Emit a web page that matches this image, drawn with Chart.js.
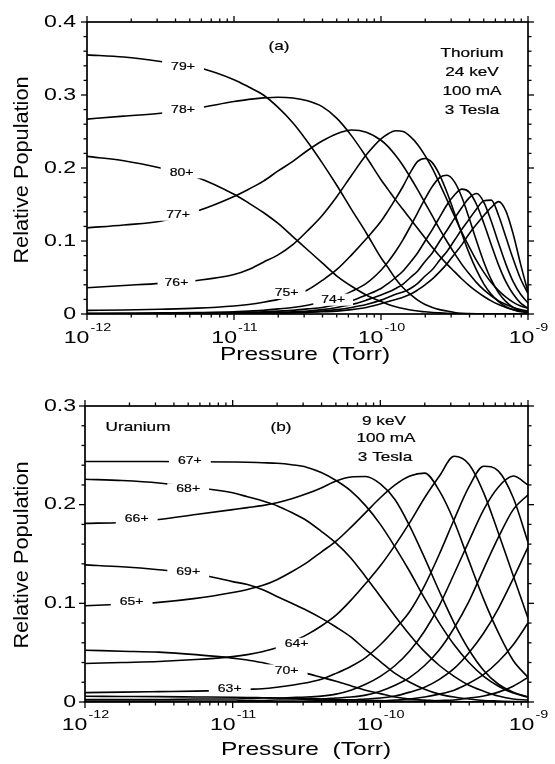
<!DOCTYPE html>
<html><head><meta charset="utf-8">
<script src="https://cdn.jsdelivr.net/npm/chart.js@4"></script>
<style>
html,body{margin:0;padding:0;background:#fff;}
#wrap{position:relative;width:555px;height:764px;}
canvas{position:absolute;left:0;}
</style></head><body>
<div id="wrap">
<canvas id="ca" width="555" height="380" style="top:0"></canvas>
<canvas id="cb" width="555" height="384" style="top:380px"></canvas>
</div>
<script>
// ---------- Panel (a): Thorium ----------
const pressureA = [1e-12,1.778e-12,3.162e-12,5.623e-12,1e-11,1.259e-11,1.585e-11,1.995e-11,2.512e-11,3.162e-11,3.981e-11,5.012e-11,6.310e-11,7.943e-11,1e-10,1.122e-10,1.259e-10,1.413e-10,1.585e-10,1.778e-10,1.995e-10,2.239e-10,2.512e-10,2.818e-10,3.162e-10,3.548e-10,3.981e-10,4.467e-10,5.012e-10,5.623e-10,6.310e-10,7.079e-10,7.943e-10,8.913e-10,1e-9];
const th80 = [0.216,0.210,0.200,0.187,0.164,0.152,0.139,0.124,0.106,0.088,0.070,0.052,0.038,0.026,0.017,0.013,0.010,0.0075,0.0055,0.004,0.003,0.002,0.0015,0.001,0.0005,0.0003,0.0002,0.0001,0,0,0,0,0,0,0];
const th79 = [0.355,0.352,0.346,0.338,0.321,0.311,0.300,0.283,0.262,0.236,0.207,0.176,0.143,0.111,0.077,0.063,0.048,0.036,0.027,0.019,0.013,0.009,0.006,0.004,0.002,0.001,0.0006,0.0003,0.0001,0,0,0,0,0,0];
const th78 = [0.267,0.271,0.275,0.282,0.291,0.294,0.296,0.297,0.296,0.292,0.284,0.268,0.244,0.215,0.184,0.170,0.156,0.143,0.130,0.117,0.104,0.091,0.079,0.068,0.058,0.048,0.039,0.031,0.024,0.018,0.013,0.009,0.006,0.004,0.003];
const th77 = [0.118,0.122,0.127,0.141,0.161,0.171,0.182,0.196,0.209,0.224,0.237,0.247,0.252,0.249,0.238,0.229,0.217,0.203,0.187,0.170,0.152,0.134,0.116,0.099,0.083,0.068,0.055,0.043,0.033,0.025,0.018,0.013,0.009,0.006,0.004];
const th76 = [0.036,0.039,0.042,0.046,0.054,0.061,0.071,0.081,0.095,0.114,0.135,0.161,0.190,0.218,0.240,0.247,0.251,0.250,0.243,0.232,0.217,0.199,0.178,0.156,0.134,0.112,0.092,0.073,0.057,0.043,0.032,0.023,0.016,0.011,0.008];
const th75 = [0.005,0.0055,0.0065,0.008,0.011,0.013,0.016,0.020,0.026,0.033,0.046,0.061,0.081,0.103,0.127,0.142,0.158,0.175,0.194,0.209,0.213,0.207,0.190,0.166,0.138,0.110,0.083,0.060,0.041,0.027,0.017,0.010,0.006,0.003,0.002];
const th74 = [0.001,0.001,0.0015,0.002,0.003,0.004,0.005,0.007,0.009,0.012,0.016,0.022,0.031,0.042,0.060,0.072,0.086,0.102,0.120,0.139,0.158,0.175,0.187,0.190,0.181,0.160,0.131,0.100,0.071,0.047,0.029,0.017,0.009,0.005,0.002];
const th73 = [0.0005,0.0008,0.001,0.0015,0.002,0.0025,0.003,0.004,0.005,0.007,0.009,0.013,0.018,0.026,0.035,0.042,0.050,0.059,0.071,0.084,0.100,0.116,0.133,0.150,0.163,0.171,0.167,0.150,0.124,0.095,0.067,0.044,0.027,0.015,0.008];
const th72 = [0.0002,0.0003,0.0005,0.0008,0.001,0.0015,0.002,0.0025,0.003,0.004,0.006,0.009,0.013,0.019,0.026,0.030,0.035,0.041,0.050,0.059,0.072,0.084,0.100,0.115,0.131,0.146,0.159,0.165,0.153,0.127,0.097,0.068,0.044,0.027,0.015];
const th71 = [0.0001,0.0002,0.0003,0.0004,0.0006,0.0008,0.001,0.0015,0.002,0.003,0.004,0.006,0.009,0.013,0.019,0.023,0.027,0.030,0.035,0.042,0.052,0.061,0.074,0.086,0.101,0.116,0.130,0.144,0.155,0.156,0.135,0.105,0.075,0.048,0.028];
const th70 = [0.0001,0.0001,0.0002,0.0003,0.0004,0.0006,0.0008,0.001,0.0015,0.002,0.003,0.004,0.006,0.009,0.014,0.017,0.020,0.023,0.027,0.033,0.040,0.048,0.058,0.069,0.082,0.095,0.110,0.123,0.135,0.146,0.154,0.141,0.109,0.068,0.030];
const seriesA = [th80, th79, th78, th77, th76, th75, th74, th73, th72, th71, th70];
const yTicksA = ['0', '0.1', '0.2', '0.3', '0.4'];

// ---------- Panel (b): Uranium ----------
const pressureB = [1e-12,1.778e-12,3.162e-12,5.623e-12,1e-11,1.259e-11,1.585e-11,1.995e-11,2.512e-11,3.162e-11,3.981e-11,5.012e-11,6.310e-11,7.943e-11,1e-10,1.259e-10,1.585e-10,1.995e-10,2.512e-10,3.162e-10,3.981e-10,5.012e-10,6.310e-10,7.943e-10,1e-9];
const u71 = [0.0058,0.0056,0.0054,0.0051,0.0048,0.0046,0.0043,0.004,0.0037,0.0034,0.003,0.0026,0.0022,0.0018,0.0014,0.001,0.0007,0.0005,0.0003,0.0002,0.0001,0,0,0,0];
const u70 = [0.0525,0.0515,0.0505,0.048,0.0445,0.0425,0.040,0.036,0.032,0.029,0.025,0.021,0.0165,0.012,0.0085,0.005,0.003,0.002,0.001,0.0005,0.0002,0.0001,0,0,0];
const u69 = [0.139,0.137,0.134,0.130,0.122,0.119,0.114,0.107,0.100,0.093,0.085,0.076,0.066,0.053,0.041,0.029,0.020,0.013,0.008,0.005,0.003,0.0015,0.001,0.0005,0.0002];
const u68 = [0.2258,0.2245,0.222,0.2175,0.212,0.208,0.204,0.199,0.192,0.184,0.173,0.161,0.146,0.127,0.107,0.087,0.068,0.051,0.037,0.026,0.017,0.011,0.006,0.003,0.002];
const u67 = [0.2437,0.2437,0.2437,0.2435,0.2432,0.243,0.2425,0.242,0.2405,0.238,0.2325,0.2245,0.214,0.199,0.180,0.157,0.132,0.105,0.080,0.058,0.040,0.026,0.016,0.009,0.005];
const u66 = [0.181,0.182,0.185,0.190,0.195,0.197,0.199,0.202,0.206,0.211,0.217,0.224,0.228,0.2285,0.221,0.205,0.178,0.146,0.112,0.080,0.053,0.032,0.018,0.010,0.005];
const u65 = [0.0975,0.099,0.101,0.105,0.111,0.114,0.118,0.124,0.132,0.141,0.152,0.163,0.177,0.192,0.207,0.220,0.229,0.232,0.214,0.183,0.143,0.104,0.070,0.042,0.025];
const u64 = [0.039,0.040,0.041,0.043,0.046,0.048,0.051,0.055,0.061,0.068,0.077,0.088,0.103,0.120,0.138,0.159,0.182,0.207,0.229,0.249,0.241,0.212,0.171,0.128,0.085];
const u63 = [0.0095,0.010,0.0105,0.011,0.012,0.0128,0.0135,0.015,0.017,0.0195,0.023,0.029,0.036,0.045,0.058,0.074,0.092,0.118,0.150,0.185,0.218,0.239,0.234,0.207,0.162];
const u62 = [0.0025,0.0025,0.0025,0.003,0.003,0.0035,0.004,0.004,0.0045,0.005,0.006,0.008,0.012,0.018,0.026,0.037,0.052,0.072,0.098,0.130,0.163,0.195,0.218,0.229,0.220];
const u61 = [0.001,0.001,0.001,0.001,0.001,0.0015,0.0015,0.002,0.002,0.0025,0.003,0.004,0.005,0.007,0.011,0.017,0.025,0.037,0.053,0.075,0.102,0.135,0.167,0.195,0.210];
const u60 = [0,0,0,0,0,0,0,0,0,0.001,0.0012,0.0015,0.002,0.003,0.004,0.006,0.010,0.015,0.023,0.034,0.050,0.070,0.095,0.125,0.157];
const u59 = [0,0,0,0,0,0,0,0,0,0,0,0,0,0,0.001,0.002,0.003,0.005,0.008,0.012,0.019,0.028,0.041,0.058,0.080];
const u58 = [0,0,0,0,0,0,0,0,0,0,0,0,0,0,0,0,0.0005,0.001,0.0015,0.002,0.004,0.006,0.010,0.016,0.025];
const seriesB = [u71, u70, u69, u68, u67, u66, u65, u64, u63, u62, u61, u60, u59, u58];
const yTicksB = ['0', '0.1', '0.2', '0.3'];

// shared x ticks
const xDecades = [1e-12, 1e-11, 1e-10, 1e-9];
const xExponents = ['-12', '-11', '-10', '-9'];

// curve labels (text, pressure, population)
const labelsA = [
  {t:'79+', p:4.5e-12, v:0.339, pad:9},
  {t:'78+', p:4.5e-12, v:0.280, pad:9},
  {t:'80+', p:4.4e-12, v:0.194, pad:9},
  {t:'77+', p:4.17e-12, v:0.136, pad:9},
  {t:'76+', p:4.06e-12, v:0.0425, pad:7},
  {t:'75+', p:2.28e-11, v:0.0288, pad:7},
  {t:'74+', p:4.73e-11, v:0.0196, pad:8}
];
const labelsB = [
  {t:'67+', p:5.13e-12, v:0.2443, pad:9},
  {t:'68+', p:5.0e-12, v:0.2156, pad:9},
  {t:'66+', p:2.24e-12, v:0.186, pad:9},
  {t:'69+', p:5.0e-12, v:0.132, pad:9},
  {t:'65+', p:2.07e-12, v:0.102, pad:9},
  {t:'64+', p:2.71e-11, v:0.059, pad:9},
  {t:'70+', p:2.32e-11, v:0.032, pad:9},
  {t:'63+', p:9.55e-12, v:0.0136, pad:9}
];
const notesA = [
  {t:'(a)', x:279, y:46},
  {t:'Thorium', x:472, y:53},
  {t:'24 keV', x:472, y:72},
  {t:'100 mA', x:472, y:91},
  {t:'3 Tesla', x:472, y:110}
];
const notesB = [
  {t:'Uranium', x:138, y:47},
  {t:'(b)', x:281, y:47},
  {t:'9 keV', x:384, y:41},
  {t:'100 mA', x:386, y:58},
  {t:'3 Tesla', x:385, y:77}
];

const FONT = '"Liberation Sans", Arial, Helvetica, sans-serif';
function txt(ctx, s, x, y, size, sx, align, rot, stroke) {
  ctx.save();
  ctx.translate(x, y);
  if (rot) ctx.rotate(rot);
  ctx.scale(sx, 1);
  ctx.font = size + 'px ' + FONT;
  ctx.textAlign = align || 'center';
  ctx.textBaseline = 'middle';
  ctx.fillStyle = '#000';
  ctx.fillText(s, 0, 0);
  if (stroke) {
    ctx.strokeStyle = '#000';
    ctx.lineWidth = stroke;
    ctx.strokeText(s, 0, 0);
  }
  ctx.restore();
}
function seg(ctx, x1, y1, x2, y2) {
  ctx.beginPath(); ctx.moveTo(x1, y1); ctx.lineTo(x2, y2); ctx.stroke();
}

function framePlugin(cfg) {
  return {
    id: 'frame',
    afterDatasetsDraw(chart) {
      const ctx = chart.ctx, a = chart.chartArea, xs = chart.scales.x, ys = chart.scales.y;
      ctx.save();
      // curve labels with white gap
      cfg.labels.forEach(l => {
        const px = xs.getPixelForValue(l.p), py = ys.getPixelForValue(l.v);
        ctx.font = '11.5px ' + FONT;
        const w = ctx.measureText(l.t).width * 1.22;
        ctx.fillStyle = '#fff';
        ctx.fillRect(px - w / 2 - l.pad, py - 6, w + 2 * l.pad, 12);
        txt(ctx, l.t, px, py, 11.5, 1.22, 'center', 0, 0.2);
      });
      // frame
      ctx.strokeStyle = '#000';
      ctx.lineWidth = 1.7;
      ctx.strokeRect(a.left, a.top, a.right - a.left, a.bottom - a.top);
      ctx.lineWidth = 1.3;
      // x ticks (log)
      for (let i = 0; i < xDecades.length; i++) {
        const dec = xDecades[i];
        const nk = (i === xDecades.length - 1) ? 1 : 9;
        for (let k = 1; k <= nk; k++) {
          const px = xs.getPixelForValue(k * dec);
          const len = (k === 1) ? 6 : 3.5;
          seg(ctx, px, a.bottom, px, a.bottom + len);
          seg(ctx, px, a.top, px, a.top - len);
        }
      }
      // y ticks
      const nY = Math.round(cfg.ymax / 0.02);
      for (let j = 0; j <= nY; j++) {
        const v = j * 0.02;
        const py = ys.getPixelForValue(v);
        const len = (j % 5 === 0) ? 6 : 3.5;
        seg(ctx, a.left, py, a.left - len, py);
        seg(ctx, a.right, py, a.right + len, py);
      }
      // y tick labels
      cfg.yTicks.forEach((s, j) => {
        txt(ctx, s, cfg.yLabX, ys.getPixelForValue(j * 0.1), 16.5, 1.4, 'right');
      });
      // x tick labels: 10 with superscript exponent
      xDecades.forEach((dec, i) => {
        const px = xs.getPixelForValue(dec);
        ctx.font = '16.5px ' + FONT;
        const w10 = ctx.measureText('10').width * 1.4;
        ctx.font = '11.5px ' + FONT;
        const we = ctx.measureText(xExponents[i]).width * 1.25;
        const x0 = px - (w10 + we) / 2;
        txt(ctx, '10', x0, cfg.xLabY, 16.5, 1.4, 'left');
        txt(ctx, xExponents[i], x0 + w10 + 1, cfg.xLabY - 10, 11.5, 1.25, 'left');
      });
      // axis titles
      txt(ctx, 'Pressure  (Torr)', cfg.xTitle[0], cfg.xTitle[1], 19, 1.29, 'center');
      txt(ctx, 'Relative Population', cfg.yTitle[0], cfg.yTitle[1], 20.5, 1.06, 'center', -Math.PI / 2);
      // notes
      cfg.notes.forEach(n => txt(ctx, n.t, n.x, n.y, 13, 1.32, 'center', 0, 0.2));
      ctx.restore();
    }
  };
}

function makeChart(id, grid, series, ymax, pad, cfg) {
  const datasets = series.map(vals => ({
    data: vals.map((v, i) => ({x: grid[i], y: v})),
    borderColor: '#000',
    borderWidth: 1.6,
    pointRadius: 0,
    fill: false,
    cubicInterpolationMode: 'monotone'
  }));
  return new Chart(document.getElementById(id), {
    type: 'line',
    data: {datasets},
    options: {
      responsive: false,
      animation: false,
      events: [],
      layout: {padding: pad},
      scales: {
        x: {type: 'logarithmic', min: 1e-12, max: 1e-9, display: false},
        y: {type: 'linear', min: 0, max: ymax, display: false}
      },
      plugins: {legend: {display: false}, tooltip: {enabled: false}}
    },
    plugins: [framePlugin(Object.assign({ymax}, cfg))]
  });
}

makeChart('ca', pressureA, seriesA, 0.4, {left: 87, right: 27, top: 22, bottom: 66},
  {labels: labelsA, notes: notesA, yTicks: yTicksA, yLabX: 76, xLabY: 338, xTitle: [305, 355], yTitle: [22, 170]});
makeChart('cb', pressureB, seriesB, 0.3, {left: 85, right: 27, top: 26, bottom: 62},
  {labels: labelsB, notes: notesB, yTicks: yTicksB, yLabX: 76, xLabY: 345, xTitle: [306, 370], yTitle: [22, 175]});
</script>
</body></html>
